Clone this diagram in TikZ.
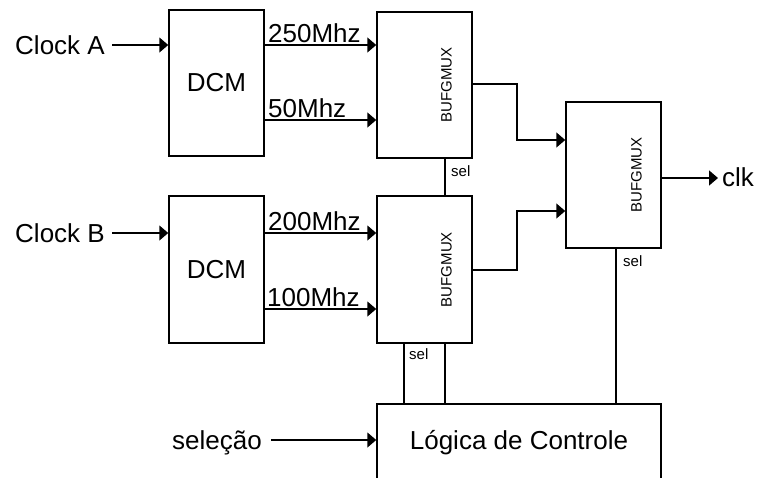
\documentclass[tikz,border=0pt]{standalone}
\usepackage{fontspec}
\setmainfont{Liberation Sans}
\usetikzlibrary{arrows.meta,calc}
\tikzset{
  box/.style={draw=black, line width=1.5pt, rectangle, inner sep=0pt, minimum width=95pt, font=\fontsize{26}{30}\selectfont},
  txt/.style={inner sep=0pt, font=\fontsize{26}{30}\selectfont},
  rot/.style={inner sep=0pt, rotate=90, font=\fontsize{15}{18}\selectfont},
  seltxt/.style={inner sep=0pt, anchor=base west, font=\fontsize{15}{18}\selectfont},
  wire/.style={line width=1.5pt},
  arr/.style={line width=1.5pt, -{Triangle[length=9pt,width=15pt]}},
}
\begin{document}
\begin{tikzpicture}[x=1pt,y=-1pt]
\useasboundingbox (0,0) rectangle (758,477);
\clip (0,0) rectangle (758,477);
% boxes
\node[box, minimum height=146pt] (dcmA) at (216.5,83) {DCM};
\node[box, minimum height=147pt] (dcmB) at (216.5,269.5) {DCM};
\node[box, minimum height=146pt] (muxA) at (424.5,85) {};
\node[box, minimum height=147pt] (muxB) at (424.5,269.5) {};
\node[box, minimum height=146pt] (muxC) at (613.5,175) {};
\node[box, minimum width=284pt, minimum height=120pt, anchor=north] (logic) at (519,403) {};
\node[rot] (muxAt) at ([xshift=22pt]muxA.center) {BUFGMUX};
\node[rot] (muxBt) at ([xshift=22pt]muxB.center) {BUFGMUX};
\node[rot] (muxCt) at ([xshift=23pt]muxC.center) {BUFGMUX};
\node[txt, anchor=base] (logict) at (519,449) {Lógica de Controle};
% inputs
\node[txt, anchor=base east] (clkA) at (105,54) {Clock A};
\node[txt, anchor=base east] (clkB) at (105,242) {Clock B};
\node[txt, anchor=base east] (selin) at (262,449) {seleção};
\draw[arr] ([xshift=7pt]clkA.east |- 0,45) -- (dcmA.west |- 0,45);
\draw[arr] ([xshift=7pt]clkB.east |- 0,233) -- (dcmB.west |- 0,233);
\draw[arr] ([xshift=9pt]selin.east |- 0,440) -- (logic.west |- 0,440);
% frequencies
\node[txt, anchor=base west] (f250) at (268,42) {250Mhz};
\node[txt, anchor=base west] (f50) at (268,117) {50Mhz};
\node[txt, anchor=base west] (f200) at (268,230) {200Mhz};
\node[txt, anchor=base west] (f100) at (267,306) {100Mhz};
\draw[arr] (dcmA.east |- 0,45) -- (muxA.west |- 0,45);
\draw[arr] (dcmA.east |- 0,120) -- (muxA.west |- 0,120);
\draw[arr] (dcmB.east |- 0,233) -- (muxB.west |- 0,233);
\draw[arr] (dcmB.east |- 0,309) -- (muxB.west |- 0,309);
% mux outputs
\draw[arr] (muxA.east |- 0,84) -- (517,84) -- (517,140) -- (muxC.west |- 0,140);
\draw[arr] (muxB.east |- 0,270) -- (517,270) -- (517,211) -- (muxC.west |- 0,211);
\node[txt, anchor=base west] (clkout) at (722,186) {clk};
\draw[arr] (muxC.east |- 0,178) -- ([xshift=-4pt]clkout.west |- 0,178);
% sel lines
\draw[wire] (muxA.south -| 445,0) -- (muxB.north -| 445,0);
\draw[wire] (muxB.south -| 445,0) -- (logic.north -| 445,0);
\draw[wire] (muxB.south -| 404,0) -- (logic.north -| 404,0);
\draw[wire] (muxC.south -| 616,0) -- (logic.north -| 616,0);
\node[seltxt] (selA) at (451,176) {sel};
\node[seltxt] (selB) at (409,359) {sel};
\node[seltxt] (selC) at (623,266) {sel};
\end{tikzpicture}
\end{document}
